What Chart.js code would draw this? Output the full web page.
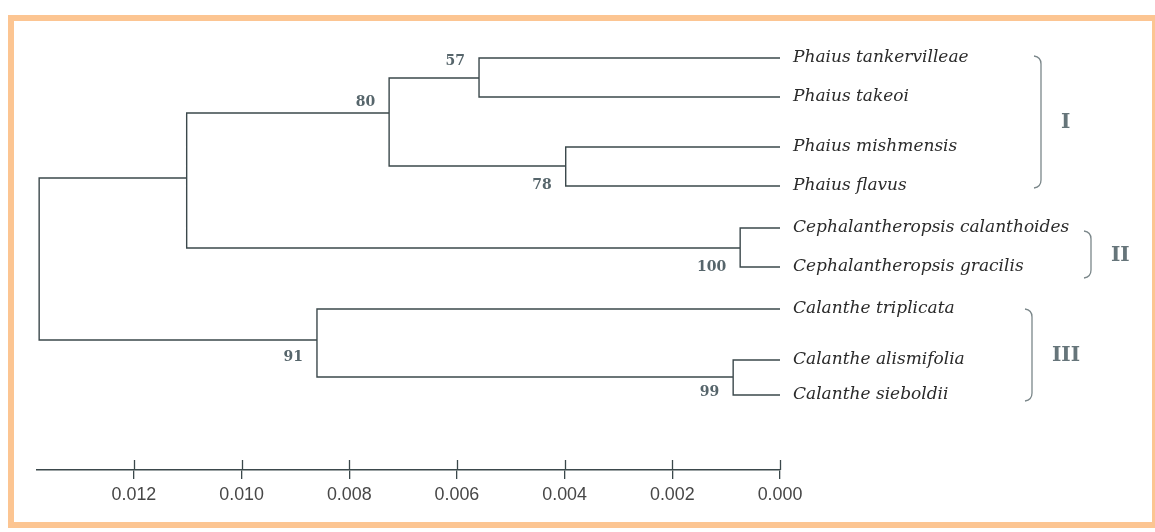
<!DOCTYPE html>
<html>
<head>
<meta charset="utf-8">
<title>Phaius / Cephalantheropsis / Calanthe tree</title>
<script src="https://cdn.jsdelivr.net/npm/chart.js@4.4.1/dist/chart.umd.min.js"></script>
<style>
  html, body { margin: 0; padding: 0; background: #fff; }
  #wrap { position: relative; width: 1155px; height: 532px; overflow: hidden; }
  #frame {
    position: absolute; left: 8px; top: 15px; width: 1150px; height: 513px;
    box-sizing: border-box; border: 6px solid #fcc592; pointer-events: none;
  }
</style>
</head>
<body>
<div id="wrap">
  <canvas id="tree" width="1155" height="532"></canvas>
  <div id="frame"></div>
</div>
<script>
// leaves (tips), top to bottom
const leafNames = [
  'Phaius tankervilleae', 'Phaius takeoi', 'Phaius mishmensis', 'Phaius flavus',
  'Cephalantheropsis calanthoides', 'Cephalantheropsis gracilis',
  'Calanthe triplicata', 'Calanthe alismifolia', 'Calanthe sieboldii'
];
// vertical row position of each tip
const leafY = [58, 97, 147, 186, 228, 267, 309, 360, 395];

// internal nodes: distance from tips, row position, children, bootstrap
const nodeIds = ['n57', 'n78', 'n80', 'n100', 'nA', 'n99', 'n91', 'root'];
const nodeDepth = [0.00559, 0.00398, 0.00726, 0.00074, 0.01102, 0.00087, 0.00860, 0.01376];
const nodeY = [78, 166, 113, 248, 178, 377, 340, 259];
const nodeChildren = [
  ['Phaius tankervilleae', 'Phaius takeoi'],
  ['Phaius mishmensis', 'Phaius flavus'],
  ['n57', 'n78'],
  ['Cephalantheropsis calanthoides', 'Cephalantheropsis gracilis'],
  ['n80', 'n100'],
  ['Calanthe alismifolia', 'Calanthe sieboldii'],
  ['Calanthe triplicata', 'n99'],
  ['nA', 'n91']
];
const bootstrap = [57, 78, 80, 100, null, 99, 91, null];

// clades
const groupNames = ['I', 'II', 'III'];
const groupFirst = [0, 4, 6];
const groupLast = [3, 5, 8];

// scale bar ticks
const scaleMax = 0.0138;
const scaleStep = 0.002;

// label placement (pixels), kept apart from the data
const bootDy = [-17, 19, -11, 19, 0, 15, 17, 0];
const bracketX = [1041, 1091, 1032];
const bracketTop = [-1, 4, 1];
const bracketBottom = [1, 10, 5];

function posOf(name) {
  const li = leafNames.indexOf(name);
  if (li >= 0) return { x: 0, y: leafY[li] };
  const ni = nodeIds.indexOf(name);
  return { x: nodeDepth[ni], y: nodeY[ni] };
}

// one path per node: child A -> node -> child B, broken by gaps
const branchPoints = [];
nodeIds.forEach((id, i) => {
  const a = posOf(nodeChildren[i][0]);
  const b = posOf(nodeChildren[i][1]);
  branchPoints.push(a, { x: nodeDepth[i], y: a.y }, { x: nodeDepth[i], y: b.y }, b);
  branchPoints.push({ x: NaN, y: NaN });
});

const lineColor = '#3b484b';

const treeText = {
  id: 'treeText',
  afterDatasetsDraw(chart) {
    const { ctx, scales: { x, y } } = chart;
    ctx.save();

    // upper half of the scale bar ticks
    ctx.strokeStyle = lineColor;
    ctx.lineWidth = 1.3;
    ctx.beginPath();
    x.ticks.forEach(t => {
      const px = Math.round(x.getPixelForValue(t.value)) + 0.5;
      ctx.moveTo(px, x.top);
      ctx.lineTo(px, x.top - 10);
    });
    ctx.stroke();

    // scale bar labels, slightly narrowed like the original
    ctx.font = '19px "Liberation Sans"';
    ctx.fillStyle = '#474747';
    ctx.textAlign = 'center';
    ctx.textBaseline = 'middle';
    x.ticks.forEach(t => {
      const px = x.getPixelForValue(t.value);
      ctx.save();
      ctx.translate(px, x.top + 25);
      ctx.scale(0.94, 1);
      ctx.fillText(t.value.toFixed(3), 0, 0);
      ctx.restore();
    });

    // tip names
    ctx.font = 'italic 17px "DejaVu Serif"';
    ctx.fillStyle = '#2a2a2a';
    ctx.textAlign = 'left';
    ctx.textBaseline = 'middle';
    leafNames.forEach((n, i) => {
      ctx.fillText(n, x.getPixelForValue(0) + 13, y.getPixelForValue(leafY[i]));
    });

    // bootstrap values
    ctx.font = 'bold 14px "DejaVu Serif"';
    ctx.fillStyle = '#56656b';
    ctx.textAlign = 'right';
    bootstrap.forEach((b, i) => {
      if (b == null) return;
      ctx.fillText(String(b), x.getPixelForValue(nodeDepth[i]) - 14,
        y.getPixelForValue(nodeY[i]) + bootDy[i]);
    });

    // clade brackets and numerals
    ctx.strokeStyle = '#7b878a';
    ctx.lineWidth = 1.3;
    ctx.font = 'bold 20px "DejaVu Serif"';
    ctx.fillStyle = '#66757a';
    ctx.textAlign = 'left';
    groupNames.forEach((g, i) => {
      const bx = bracketX[i];
      const top = y.getPixelForValue(leafY[groupFirst[i]]) + bracketTop[i];
      const bot = y.getPixelForValue(leafY[groupLast[i]]) + bracketBottom[i];
      ctx.beginPath();
      ctx.moveTo(bx - 7, top - 1);
      ctx.quadraticCurveTo(bx, top, bx, top + 7);
      ctx.lineTo(bx, bot - 7);
      ctx.quadraticCurveTo(bx, bot, bx - 7, bot + 1);
      ctx.stroke();
      ctx.fillText(g, bx + 20, (top + bot) / 2 + 1);
    });

    ctx.restore();
  }
};

new Chart(document.getElementById('tree'), {
  type: 'scatter',
  data: {
    datasets: [{
      data: branchPoints,
      showLine: true,
      spanGaps: false,
      borderColor: lineColor,
      borderWidth: 1.4,
      pointRadius: 0,
      tension: 0
    }]
  },
  options: {
    responsive: false,
    animation: false,
    devicePixelRatio: 1,
    layout: { padding: { left: 37, right: 375, top: 0, bottom: 12 } },
    plugins: { legend: { display: false }, tooltip: { enabled: false } },
    scales: {
      x: {
        type: 'linear',
        reverse: true,
        min: 0,
        max: scaleMax,
        afterFit: s => { s.height = 50; },
        border: { display: true, color: lineColor, width: 1.4 },
        grid: { display: true, drawOnChartArea: false, drawTicks: true, tickLength: 9, color: lineColor, lineWidth: 1.3 },
        ticks: {
          stepSize: scaleStep,
          includeBounds: false,
          display: false
        }
      },
      y: {
        type: 'linear',
        display: false,
        reverse: true,
        min: 0,
        max: 470
      }
    }
  },
  plugins: [treeText]
});
</script>
</body>
</html>
